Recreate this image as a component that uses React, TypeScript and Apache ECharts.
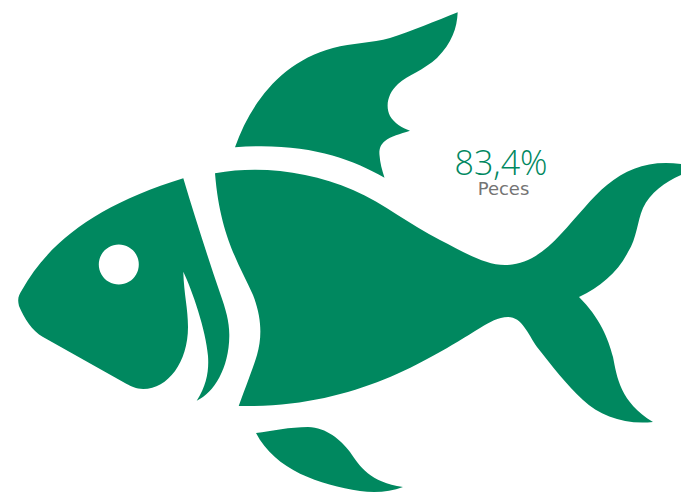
import React, { useEffect, useRef } from "react";
import * as echarts from "echarts";

const categories: string[] = ["Peces"];
const values: number[] = [83.4];

const GREEN = "#00885F";

const headPath =
  "M183.3 178.3 C194 214 207 255 220 293 C226 310 229.5 322 229.3 336 C229 368 214 393 196.7 400.7 C207 385 209 370 208 356 C206 330 192 290 183.3 271.7 C184 295 188 308 188 327 C188 362 168 389 143.3 389 C136 389 131 386 126.7 384 L43 337 C32 331 24 318 19 306 C17 298 19 295 22 290 C50 240 100 204 183.3 178.3 Z";
const bodyPath =
  "M215 173.3 C262 165 310 172 353 190 C385 204 410 225 440 240 C462 251 484 265 505 265 C528 265 545 251 560 235 C578 216 592 197 607 185 C628 168 650 160 681 164 L681 175 C665 182 650 193 643 208 C637 222 637 238 628 252 C618 272 600 287 579 297 C600 318 608 338 613 357 C617 377 620 402 653 422 C625 425 600 416 583 400 C566 384 552 366 537 347 C528 334 522 317 508 317 C498 317 490 322 480 328 C420 365 350 408 238.7 406 C246 386 253 368 257 355 C262 338 262 318 253 295 C238 262 220 235 215 173.3 Z";
const topFinPath =
  "M235 147.3 C250 105 280 62 333 48 C352 43 372 43 390 38 C412 31 436 21 457.7 12.3 C457 28 452 43 437 58 C424 70 408 75 398 84 C388 93 385 106 390 116 C394 123 402 128 410 130.7 C400 134 391 136 385 141 C380 145 379 150 379.5 155 C380 163 382 170 384.5 177.7 C350 158 305 142 235 147.3 Z";
const bottomFinPath =
  "M256 433 C272 431 290 427 308 427 C327 428 340 439 350 452 C360 467 370 482 403 487 C390 492 375 493 360 491 C320 485 275 470 256 433 Z";

const shapes: [string, string][] = [
  ["fishHead", headPath],
  ["fishBody", bodyPath],
  ["fishTopFin", topFinPath],
  ["fishBottomFin", bottomFinPath],
];

shapes.forEach(([name, d]) => {
  echarts.graphic.registerShape(name, echarts.graphic.extendPath(d, {}));
});

export default function App() {
  const ref = useRef<HTMLDivElement>(null);
  useEffect(() => {
    if (!ref.current) return;
    const chart = echarts.init(ref.current, undefined, { renderer: "svg" });
    const valueText = values[0].toFixed(1).replace(".", ",") + "%";
    chart.setOption({
      animation: false,
      backgroundColor: "#ffffff",
      graphic: [
        ...shapes.map(([name]) => ({
          type: name,
          x: 0,
          y: 0,
          style: { fill: GREEN },
          silent: true,
        })),
        {
          type: "circle",
          shape: { cx: 118.8, cy: 264.5, r: 20 },
          style: { fill: "#ffffff" },
          silent: true,
        },
        {
          type: "text",
          x: 501,
          y: 161.5,
          style: {
            text: valueText,
            fill: GREEN,
            font: '300 34px "Open Sans", Roboto, sans-serif',
            lineHeight: 28,
            textAlign: "center",
            textVerticalAlign: "middle",
          },
        },
        {
          type: "text",
          x: 503.5,
          y: 188.5,
          style: {
            text: categories[0],
            fill: "#747474",
            font: '18px "DejaVu Sans", sans-serif',
            lineHeight: 15,
            textAlign: "center",
            textVerticalAlign: "middle",
          },
        },
      ],
    });
    return () => chart.dispose();
  }, []);
  return (
    <div
      ref={ref}
      style={{ position: "absolute", left: 0, top: 0, width: 681, height: 492 }}
    />
  );
}
